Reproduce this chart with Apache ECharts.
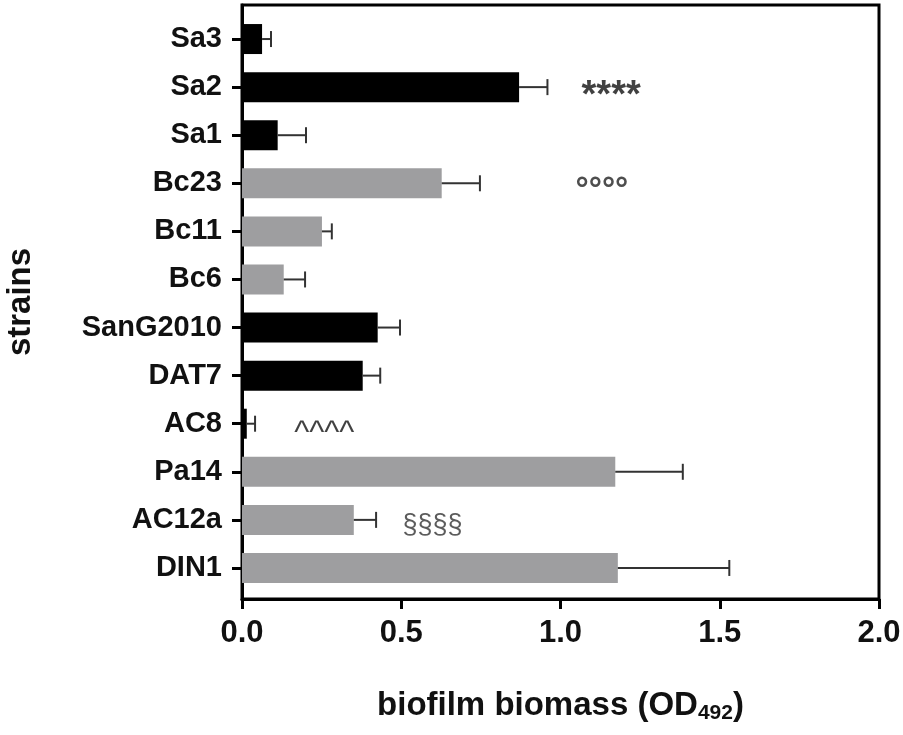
<!DOCTYPE html>
<html>
<head>
<meta charset="utf-8">
<script src="https://cdn.jsdelivr.net/npm/echarts@6/dist/echarts.min.js"></script>
<style>
html, body { margin: 0; padding: 0; background: #fff; }
#main { width: 903px; height: 735px; }
</style>
</head>
<body>
<div id="main"></div>
<script>
// strains top -> bottom
var strains = ['Sa3', 'Sa2', 'Sa1', 'Bc23', 'Bc11', 'Bc6', 'SanG2010', 'DAT7', 'AC8', 'Pa14', 'AC12a', 'DIN1'];
var biomass = [0.063, 0.870, 0.112, 0.627, 0.251, 0.131, 0.426, 0.379, 0.015, 1.172, 0.351, 1.180];
var sd = [0.028, 0.089, 0.089, 0.120, 0.031, 0.067, 0.070, 0.055, 0.026, 0.212, 0.070, 0.350];
// 1 = black bars, 2 = grey bars
var strainSet = [1, 1, 1, 2, 2, 2, 1, 1, 1, 2, 2, 2];

// significance marks
var marks = ['****', '°°°°', '^^^^', '§§§§'];
var markStrain = ['Sa2', 'Bc23', 'AC8', 'AC12a'];
var markX = [1.159, 1.13, 0.258, 0.598];

var FONT = 'Liberation Sans';

var chart = echarts.init(document.getElementById('main'));

var setColor = { 1: '#000000', 2: '#9e9ea0' };
var markStyle = {
    '****': { fontSize: 38, offset: [0, 9], color: '#111', weight: 'bold' },
    '°°°°': { fontSize: 33, offset: [0, 8], color: '#222', weight: 'bold' },
    '^^^^': { fontSize: 32, offset: [0, 9], color: '#111', weight: 'normal' },
    '§§§§': { fontSize: 27, offset: [0, 6], color: '#333', weight: 'normal' }
};

var option = {
    animation: false,
    backgroundColor: '#fff',
    grid: [
        // outer box with the axes
        { left: 242, right: 24, top: 5, bottom: 136, outerBoundsMode: 'none', containLabel: false,
          show: true, borderColor: '#000', borderWidth: 3, backgroundColor: 'transparent' },
        // bars
        { left: 242, right: 24, top: 15, bottom: 143, outerBoundsMode: 'none', containLabel: false }
    ],
    xAxis: [
        {
            gridIndex: 0, type: 'value', min: 0, max: 2, interval: 0.5,
            axisLine: { show: true, lineStyle: { color: '#000', width: 3 } },
            axisTick: { show: true, inside: false, length: 10, lineStyle: { color: '#000', width: 3 } },
            axisLabel: {
                margin: 19, fontFamily: FONT, fontWeight: 'bold', fontSize: 31, color: '#111',
                formatter: function (v) { return v.toFixed(1); }
            },
            splitLine: { show: false },
            name: '{a|biofilm biomass (OD}{s|492}{a|)}',
            nameLocation: 'middle',
            nameGap: 88,
            nameTextStyle: {
                rich: {
                    a: { fontFamily: FONT, fontWeight: 'bold', fontSize: 33, color: '#111' },
                    s: { fontFamily: FONT, fontWeight: 'bold', fontSize: 21, color: '#111', padding: [16, 0, 0, 0] }
                }
            }
        },
        { gridIndex: 1, type: 'value', min: 0, max: 2, show: false }
    ],
    yAxis: [
        {
            gridIndex: 0, type: 'value', min: 0, max: 1,
            axisLine: { show: true, lineStyle: { color: '#000', width: 3 } },
            axisTick: { show: false }, axisLabel: { show: false }, splitLine: { show: false },
            name: 'strains', nameLocation: 'middle', nameGap: 205, nameRotate: 90,
            nameTextStyle: { fontFamily: FONT, fontWeight: 'bold', fontSize: 33, color: '#111' }
        },
        {
            gridIndex: 1, type: 'category', data: strains, inverse: true,
            axisLine: { show: false },
            axisTick: { show: true, alignWithLabel: true, length: 10, lineStyle: { color: '#000', width: 3 } },
            axisLabel: { margin: 20, fontFamily: FONT, fontWeight: 'bold', fontSize: 29, color: '#111' }
        }
    ],
    series: [
        {
            type: 'bar', xAxisIndex: 1, yAxisIndex: 1, barWidth: 30,
            data: biomass.map(function (v, i) {
                return { value: v, itemStyle: { color: setColor[strainSet[i]] } };
            })
        },
        {
            type: 'custom', xAxisIndex: 1, yAxisIndex: 1,
            encode: { x: [1, 2], y: 0 },
            data: biomass.map(function (v, i) { return [i, v, v + sd[i]]; }),
            renderItem: function (params, api) {
                var p0 = api.coord([api.value(1), api.value(0)]);
                var p1 = api.coord([api.value(2), api.value(0)]);
                var h = 8;
                var st = { stroke: '#333', lineWidth: 2 };
                return {
                    type: 'group',
                    children: [
                        { type: 'line', shape: { x1: p0[0], y1: p0[1], x2: p1[0], y2: p1[1] }, style: st },
                        { type: 'line', shape: { x1: p1[0], y1: p1[1] - h, x2: p1[0], y2: p1[1] + h }, style: st }
                    ]
                };
            },
            z: 3
        },
        {
            type: 'scatter', xAxisIndex: 1, yAxisIndex: 1,
            symbolSize: 1, itemStyle: { color: 'transparent' },
            data: marks.map(function (m, i) {
                var s = markStyle[m];
                return {
                    name: m,
                    value: [markX[i], markStrain[i]],
                    label: {
                        show: true, position: 'inside', formatter: '{b}',
                        fontFamily: FONT, fontWeight: s.weight,
                        fontSize: s.fontSize, color: s.color, offset: s.offset
                    }
                };
            })
        }
    ]
};

chart.setOption(option);
</script>
</body>
</html>
